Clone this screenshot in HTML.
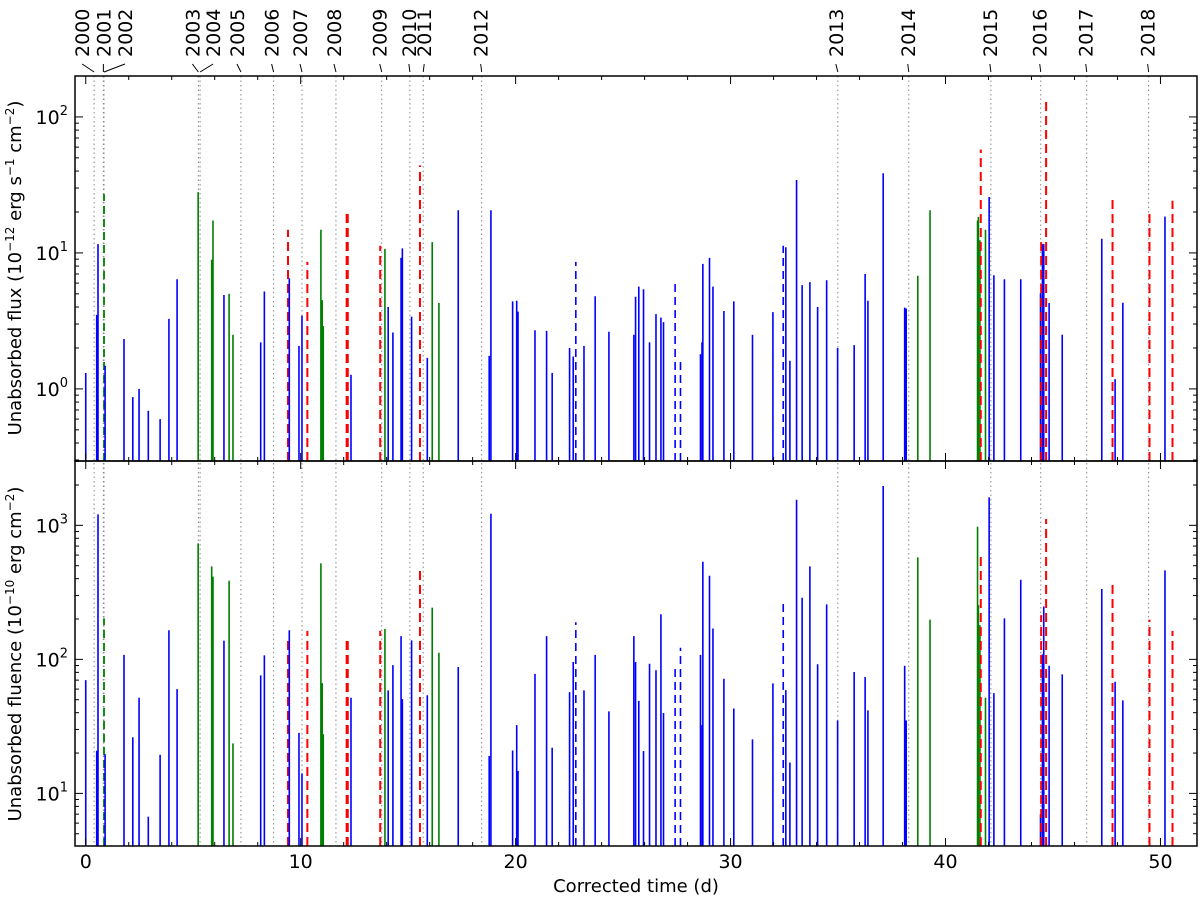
<!DOCTYPE html>
<html><head><meta charset="utf-8"><style>
html,body{margin:0;padding:0;background:#fff;}
svg{display:block;font-family:"DejaVu Sans","Liberation Sans",sans-serif;}
</style></head><body>
<svg id="chart" width="1200" height="903" viewBox="0 0 1200 903" xmlns="http://www.w3.org/2000/svg">
<defs>
<clipPath id="clipTop"><rect x="75" y="76" width="1122" height="385"/></clipPath>
<clipPath id="clipBot"><rect x="75" y="461" width="1122" height="385"/></clipPath>
</defs>
<g id="grid"></g>
<g id="barsTop" clip-path="url(#clipTop)"></g>
<g id="barsBot" clip-path="url(#clipBot)"></g>
<g id="axes"></g>
<text transform="translate(21,268) rotate(-90)" text-anchor="middle" font-size="18">Unabsorbed flux (10<tspan dy="-7" font-size="12">−12</tspan><tspan dy="7"> erg s</tspan><tspan dy="-7" font-size="12">−1</tspan><tspan dy="7"> cm</tspan><tspan dy="-7" font-size="12">−2</tspan><tspan dy="7">)</tspan></text>
<text transform="translate(21,654) rotate(-90)" text-anchor="middle" font-size="18">Unabsorbed fluence (10<tspan dy="-7" font-size="12">−10</tspan><tspan dy="7"> erg cm</tspan><tspan dy="-7" font-size="12">−2</tspan><tspan dy="7">)</tspan></text>
<text x="636" y="892" text-anchor="middle" font-size="18">Corrected time (d)</text>
</svg>
<script>
const times = [0.00,0.51,0.57,0.85,0.90,1.78,2.19,2.48,2.91,3.46,3.87,4.25,5.23,5.86,5.92,6.43,6.67,6.85,8.14,8.31,9.41,9.47,9.92,10.06,10.31,10.94,11.00,11.05,12.14,12.19,12.34,13.70,13.92,14.07,14.29,14.67,14.73,15.16,15.55,15.89,16.12,16.43,17.33,18.77,18.85,19.86,20.05,20.11,20.90,21.44,21.70,22.51,22.68,22.80,23.18,23.70,24.34,25.50,25.58,25.73,25.95,26.23,26.53,26.76,26.88,27.42,27.67,28.60,28.67,28.71,29.02,29.18,29.69,30.15,31.02,31.97,32.45,32.57,32.76,33.07,33.33,33.69,34.05,34.47,34.98,35.75,36.26,36.39,37.10,38.10,38.17,38.71,39.28,41.49,41.53,41.60,41.64,41.86,42.03,42.25,42.74,43.50,44.42,44.51,44.57,44.68,44.45,44.82,45.43,47.27,47.77,47.89,48.25,49.49,50.21,50.56];
const flux = [1.31,3.5,11.6,27,1.48,2.33,0.87,1.0,0.69,0.60,3.27,6.4,28,8.9,17.3,4.9,5.0,2.5,2.2,5.2,14.8,6.5,2.07,3.45,8.6,14.8,4.5,2.9,19.4,19.4,1.27,11.3,10.7,4.0,2.6,9.2,10.8,3.4,44,1.69,12.0,4.28,20.6,1.75,20.6,4.4,4.45,3.7,2.7,2.67,1.31,2.0,1.73,8.6,2.07,4.8,2.63,2.5,4.76,5.65,5.4,2.2,3.55,3.34,3.1,6.0,1.67,1.8,2.2,8.3,9.2,5.65,3.74,4.4,2.5,3.67,11.3,11.0,1.61,34.4,5.8,6.1,4.0,6.3,2.0,2.1,7.0,4.45,38.5,3.96,3.9,6.8,20.6,17.3,18.4,12.4,57.6,14.8,25.8,6.85,6.4,6.4,5.05,11.6,11.6,131,12,4.28,2.5,12.7,25.7,1.18,4.3,19.4,18.5,24.2];
const fluence = [70,20.8,1208,202,19.6,108,26.2,51.7,6.7,19.4,165,60,734,494,414,138,386,23.6,76,107,142,165,28.3,14.1,163,520,66.5,27.6,147.6,147.6,51.7,163,169,58.7,90.6,149,50.5,138.6,486,54,243,112,87.7,19,1221,20.9,32.3,14.7,78,149,21.9,57,95.5,189,58.7,108,40.9,149,95.5,49,20.7,92.7,83,217,39.8,86.5,122,108,32.3,535,421,170,71.6,43,25.3,66.2,264,59,17,1553,288,494,92,257,35,80.4,73.8,41.6,1965,89.6,35,577,198,977,254,180,580,51.7,1618,56,202,393,7,109,248,1115,214,89.6,77.3,335,359,68,49.4,198,461,163];
const kinds = ["b","b","b","gd","b","b","b","b","b","b","b","b","g","g","g","b","g","g","b","b","rd","b","b","b","rd","g","g","g","rd","rd","b","rd","g","b","b","b","b","b","rd","b","g","g","b","b","b","b","b","b","b","b","b","b","b","bd","b","b","b","b","b","b","b","b","b","b","b","bd","bd","b","b","b","b","b","b","b","b","b","bd","b","b","b","b","b","b","b","b","b","b","b","b","b","b","g","g","g","g","g","rd","g","b","b","b","b","b","b","b","rd","rd","b","b","b","rd","b","b","rd","b","rd"];
const years = ["2000","2001","2002","2003","2004","2005","2006","2007","2008","2009","2010","2011","2012","2013","2014","2015","2016","2017","2018"];
const yearTimes = [0.39,0.82,0.85,5.24,5.32,7.22,8.74,10.06,11.64,13.77,15.08,15.70,18.42,34.99,38.29,42.11,44.43,46.57,49.45];
const xTicks = [0,10,20,30,40,50];

const NS="http://www.w3.org/2000/svg";
const X0=75,X1=1197;
const xmin=-0.5, xmax=51.7;
function xs(t){return X0+(t-xmin)/(xmax-xmin)*(X1-X0);}
const TOP={y0:76,y1:461,lmin:Math.log10(0.295),lmax:Math.log10(200)};
const BOT={y0:461,y1:846,lmin:Math.log10(4.05),lmax:Math.log10(3020)};
function ys(p,v){return p.y1-(Math.log10(v)-p.lmin)/(p.lmax-p.lmin)*(p.y1-p.y0);}
function mk(tag,attrs,parent){const e=document.createElementNS(NS,tag);for(const k in attrs)e.setAttribute(k,attrs[k]);parent.appendChild(e);return e;}
const grid=document.getElementById('grid'),axes=document.getElementById('axes');
const svg=document.getElementById('chart');

yearTimes.forEach((t,i)=>{
  const l=mk('line',{x1:xs(t),x2:xs(t),y1:76,y2:846,stroke:'#888','stroke-width':1,'stroke-dasharray':'1.5,3'},grid);
  
  
});
const labelShift=[-12,0,21,-6,13,-4,-2,-2,-2,-2,-1,1,-1,-2,-1,-1,-1,-1,-1];
yearTimes.forEach((t,i)=>{
  const lx=xs(t)+labelShift[i];
  const tx=mk('text',{transform:'translate('+(lx+7)+',57) rotate(-90)','font-size':19},svg);
  tx.textContent=years[i];
  
  
  mk('line',{x1:lx,y1:64,x2:xs(t),y2:72,stroke:'#000','stroke-width':1},svg);
});

const styles={b:{c:'#0000ff',w:1.6,d:null},bd:{c:'#0000ff',w:1.6,d:'8,5'},g:{c:'#007f00',w:1.6,d:null},gd:{c:'#007f00',w:1.8,d:'8,5'},rd:{c:'#ff0000',w:2,d:'9,5'}};
function drawBars(gid,p,vals,panel){
  const g=document.getElementById(gid);
  times.forEach((t,i)=>{
    const s=styles[kinds[i]];const x=xs(t);
    const a={x1:x,x2:x,y1:p.y1,y2:ys(p,vals[i]),stroke:s.c,'stroke-width':s.w};
    if(s.d)a['stroke-dasharray']=s.d;
    const l=mk('line',a,g);
    
    
  });
}
drawBars('barsTop',TOP,flux,'flux');
drawBars('barsBot',BOT,fluence,'fluence');

function axisPanel(p,name,decades){
  const r=mk('rect',{x:X0,y:p.y0,width:X1-X0,height:p.y1-p.y0,fill:'none',stroke:'#000','stroke-width':1.5},axes);
  
  
  for(let t=0;t<=50;t+=2){
    const major=(t%10===0);const L=major?8:4;const x=xs(t);
    mk('line',{x1:x,x2:x,y1:p.y1,y2:p.y1-L,stroke:'#000','stroke-width':1},axes);
    mk('line',{x1:x,x2:x,y1:p.y0,y2:p.y0+L,stroke:'#000','stroke-width':1},axes);
  }
  const lo=Math.floor(p.lmin),hi=Math.ceil(p.lmax);
  for(let d=lo;d<=hi;d++){
    for(let m=1;m<10;m++){
      const v=m*Math.pow(10,d);const lv=Math.log10(v);
      if(lv<p.lmin||lv>p.lmax)continue;
      const y=ys(p,v);const L=m===1?8:4;
      mk('line',{x1:X0,x2:X0+L,y1:y,y2:y,stroke:'#000','stroke-width':1},axes);
      mk('line',{x1:X1,x2:X1-L,y1:y,y2:y,stroke:'#000','stroke-width':1},axes);
    }
  }
  decades.forEach(d=>{
    const y=ys(p,Math.pow(10,d));
    const tx=mk('text',{x:X0-7,y:y+7,'text-anchor':'end','font-size':19},axes);
    
    
    tx.innerHTML='10<tspan dy="-9" font-size="13">'+d+'</tspan>';
  });
}
axisPanel(TOP,'flux-panel',[0,1,2]);
axisPanel(BOT,'fluence-panel',[1,2,3]);
xTicks.forEach(t=>{
  const tx=mk('text',{x:xs(t),y:868,'text-anchor':'middle','font-size':19},axes);
  tx.textContent=String(t);
  
  
});
</script>
</body></html>
